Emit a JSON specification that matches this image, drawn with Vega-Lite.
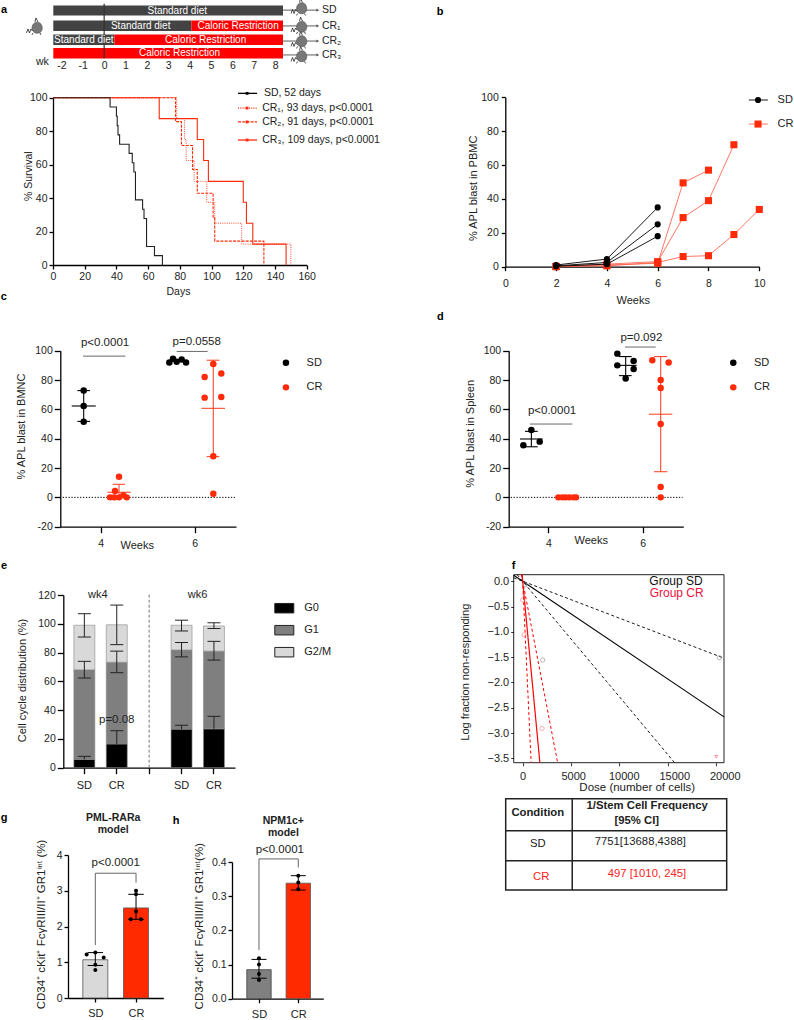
{
"$schema":"https://vega.github.io/schema/vega-lite/v6.json",
"width":794,"height":1020,"padding":0,"autosize":{"type":"none"},"background":"white",
"config":{"view":{"stroke":null},"font":"Liberation Sans",
"text":{"font":"Liberation Sans","fontSize":11,"baseline":"middle","align":"center","color":"#222"},
"axis":{"grid":false,"labelFont":"Liberation Sans","labelFontSize":10.5,"labelColor":"#222","titleFont":"Liberation Sans","titleFontSize":11,"titleFontWeight":"normal","titleColor":"#222","tickColor":"#000","domainColor":"#000","tickWidth":1.3,"domainWidth":1.3,"tickSize":4,"labelPadding":2,"labelFlush":false,"labelOverlap":false,"labelBound":false,"titleBaseline":"middle","titleAlign":"center"}},
"resolve":{"scale":{"x":"independent","y":"independent"},"axis":{"x":"independent","y":"independent"}},
"layer":[
{"encoding":{"x":{"field":"week","type":"quantitative","scale":{"domain":[-2.38,8.37],"range":[53.3,283],"nice":false,"zero":false},"axis":{"orient":"bottom","title":null,"values":[-2,-1,0,1,2,3,4,5,6,7,8],"labelExpr":"replace(datum.label,'−','-')","offset":-961,"domain":false,"ticks":false,"labelPadding":1,"format":"d"}},
"y":{"field":"row","type":"quantitative","scale":{"domain":[0,4],"range":[5,59],"nice":false,"zero":false},"axis":null}},
"layer":[
{"data":{"values":[{"week":-2.38,"weekEnd":8.37,"row":0.04,"rowEnd":0.78},{"week":-2.38,"weekEnd":4.08,"row":1.15,"rowEnd":1.93},{"week":-2.38,"weekEnd":0.48,"row":2.19,"rowEnd":2.96}]},"mark":{"type":"rect","fill":"#434343"},"encoding":{"x2":{"field":"weekEnd"},"y2":{"field":"rowEnd"}}},
{"data":{"values":[{"week":4.08,"weekEnd":8.37,"row":1.15,"rowEnd":1.93},{"week":0.48,"weekEnd":8.37,"row":2.19,"rowEnd":2.96},{"week":-2.38,"weekEnd":8.37,"row":3.19,"rowEnd":3.96}]},"mark":{"type":"rect","fill":"#ff0000"},"encoding":{"x2":{"field":"weekEnd"},"y2":{"field":"rowEnd"}}},
{"data":{"values":[{"week":0,"row":-0.1,"rowEnd":3.95}]},"mark":{"type":"rule","color":"#333","strokeWidth":1.2},"encoding":{"y2":{"field":"rowEnd"}}},
{"data":{"values":[{"week":3.42,"row":0.41,"label":"Standard diet"},{"week":1.71,"row":1.54,"label":"Standard diet"},{"week":6.27,"row":1.54,"label":"Caloric Restriction"},{"week":-0.95,"row":2.57,"label":"Standard diet"},{"week":4.75,"row":2.57,"label":"Caloric Restriction"},{"week":3.53,"row":3.57,"label":"Caloric Restriction"}]},"mark":{"type":"text","color":"white","fontSize":10},"encoding":{"text":{"field":"label"}}},
{"data":{"values":[{"week":8.37,"weekEnd":10,"row":0.38},{"week":8.37,"weekEnd":10,"row":1.55},{"week":8.37,"weekEnd":10,"row":2.67},{"week":8.37,"weekEnd":10,"row":3.7}]},"mark":{"type":"rule","color":"#333","strokeWidth":0.8},"encoding":{"x2":{"field":"weekEnd"}}},
{"data":{"values":[{"week":10,"row":0.38},{"week":10,"row":1.55},{"week":10,"row":2.67},{"week":10,"row":3.7}]},"mark":{"type":"point","shape":"triangle-right","filled":true,"color":"#333","size":10}},
{"data":{"values":[{"week":9.19,"row":0.26},{"week":9.19,"row":1.63},{"week":9.19,"row":2.7},{"week":9.19,"row":3.81},{"week":-3.19,"row":1.7}]},"layer":[
{"mark":{"type":"point","shape":"M-0.95,0.5L-0.8,0.1L-0.65,0.5L-0.5,0.1L-0.35,0.3M-0.1,-0.6L0,-1L0.2,-0.6M-0.3,0.5L-0.4,0.7M0.4,0.5L0.5,0.7","filled":false,"stroke":"#222","strokeWidth":0.8,"size":400,"opacity":1}},
{"mark":{"type":"point","shape":"M-0.4,0C-0.4,-0.5 0.1,-0.75 0.45,-0.45C0.75,-0.1 0.65,0.4 0.3,0.5C-0.05,0.6 -0.4,0.4 -0.4,0Z","filled":true,"fill":"#777","stroke":"#444","strokeWidth":0.5,"size":400,"opacity":1}}]},
{"data":{"values":[{"week":10.19,"row":0.38,"label":"SD"},{"week":10.19,"row":1.55,"label":"CR₁"},{"week":10.19,"row":2.67,"label":"CR₂"},{"week":10.19,"row":3.7,"label":"CR₃"},{"week":-3.19,"row":4.22,"label":"wk"}]},"mark":{"type":"text","align":"left","fontSize":10.5},"encoding":{"text":{"field":"label"}}},
{"data":{"values":[{"week":-4.69,"row":0.37,"label":"a"}]},"mark":{"type":"text","fontWeight":"bold","fontSize":11,"color":"#000"},"encoding":{"text":{"field":"label"}}}
]},
{"encoding":{"x":{"field":"day","type":"quantitative","scale":{"domain":[0,160],"range":[53,306.7],"nice":false,"zero":false},"axis":{"orient":"bottom","values":[0,20,40,60,80,100,120,140,160],"offset":-755,"title":"Days","titleFontSize":10.5,"titleX":178,"titleY":26.7,"labelPadding":2.5}},
"y":{"field":"survival","type":"quantitative","scale":{"domain":[0,100],"range":[265,97.7],"nice":false,"zero":false},"axis":{"orient":"left","values":[0,20,40,60,80,100],"offset":-53,"title":"% Survival","titleFontSize":10.5,"titleX":-24.7,"titleY":175.7}}},
"layer":[
{"data":{"values":[{"day":0,"survival":100},{"day":78,"survival":87.5},{"day":83,"survival":75},{"day":84,"survival":62.5},{"day":89,"survival":50},{"day":97,"survival":37.5},{"day":102,"survival":25},{"day":119,"survival":12.5},{"day":150,"survival":0}]},"mark":{"type":"line","interpolate":"step-after","color":"#ff4a30","strokeWidth":1,"strokeDash":[1,1.2]}},
{"data":{"values":[{"day":0,"survival":100},{"day":77.3,"survival":85.7},{"day":81,"survival":71.4},{"day":88,"survival":57.1},{"day":91,"survival":42.9},{"day":101,"survival":28.6},{"day":102,"survival":14.3},{"day":133,"survival":0}]},"mark":{"type":"line","interpolate":"step-after","color":"#ff2a0a","strokeWidth":1.1,"strokeDash":[3,1.2]}},
{"data":{"values":[{"day":0,"survival":100},{"day":67,"survival":87.5},{"day":91,"survival":75},{"day":95,"survival":62.5},{"day":98,"survival":50},{"day":120,"survival":37.5},{"day":122,"survival":25},{"day":126,"survival":12.5},{"day":147,"survival":0}]},"mark":{"type":"line","interpolate":"step-after","color":"#ff2a0a","strokeWidth":1.1}},
{"data":{"values":[{"day":0,"survival":100},{"day":36,"survival":94.4},{"day":40,"survival":88.9},{"day":40.5,"survival":83.3},{"day":41,"survival":77.8},{"day":42,"survival":72.2},{"day":48,"survival":66.7},{"day":50,"survival":61.1},{"day":51,"survival":55.6},{"day":52,"survival":38.9},{"day":56.5,"survival":33.3},{"day":57.4,"survival":27.8},{"day":59,"survival":11.1},{"day":64,"survival":5.6},{"day":69,"survival":0}]},"mark":{"type":"line","interpolate":"step-after","color":"#222","strokeWidth":1.1}},
{"data":{"values":[{"day":116.7,"survival":102.6},{"day":128.7,"survival":102.6}]},"mark":{"type":"line","color":"#000","strokeWidth":1.3}},
{"data":{"values":[{"day":116.7,"survival":93.8},{"day":128.7,"survival":93.8}]},"mark":{"type":"line","color":"#ff2a0a","strokeWidth":1.2,"strokeDash":[1,1.2]}},
{"data":{"values":[{"day":116.7,"survival":85.5},{"day":128.7,"survival":85.5}]},"mark":{"type":"line","color":"#ff2a0a","strokeWidth":1.2,"strokeDash":[3,1.2]}},
{"data":{"values":[{"day":116.7,"survival":74.7},{"day":128.7,"survival":74.7}]},"mark":{"type":"line","color":"#ff2a0a","strokeWidth":1.3}},
{"data":{"values":[{"day":122.4,"survival":102.6}]},"mark":{"type":"point","shape":"square","filled":true,"color":"#000","size":8,"opacity":1}},
{"data":{"values":[{"day":122.4,"survival":93.8},{"day":122.4,"survival":85.5},{"day":122.4,"survival":74.7}]},"mark":{"type":"point","shape":"square","filled":true,"color":"#ff2a0a","size":8,"opacity":1}},
{"data":{"values":[{"day":133,"survival":102.6,"label":"SD, 52 days"},{"day":131.9,"survival":93.8,"label":"CR₁, 93 days, p<0.0001"},{"day":131.9,"survival":85.5,"label":"CR₂, 91 days, p<0.0001"},{"day":131.9,"survival":74.7,"label":"CR₃, 109 days, p<0.0001"}]},"mark":{"type":"text","align":"left","fontSize":10.5},"encoding":{"text":{"field":"label"}}}
]},
{"encoding":{"x":{"field":"week","type":"quantitative","scale":{"domain":[0,10],"range":[505.3,759.3],"nice":false,"zero":false},"axis":{"orient":"bottom","values":[0,2,4,6,8,10],"offset":-753.3,"title":"Weeks","titleX":632.7,"titleY":33.3,"labelPadding":8}},
"y":{"field":"blast","type":"quantitative","scale":{"domain":[0,100],"range":[266.7,97.3],"nice":false,"zero":false},"axis":{"orient":"left","values":[0,20,40,60,80,100],"offset":-505.3,"title":"% APL blast in PBMC","titleX":-32,"titleY":187.8,"labelPadding":3}}},
"layer":[
{"data":{"values":[{"mouse":"c1","week":2,"blast":0.2},{"mouse":"c1","week":4,"blast":1},{"mouse":"c1","week":6,"blast":2},{"mouse":"c1","week":7,"blast":49.5},{"mouse":"c1","week":8,"blast":57},{"mouse":"c2","week":2,"blast":0.1},{"mouse":"c2","week":4,"blast":1.5},{"mouse":"c2","week":6,"blast":3},{"mouse":"c2","week":7,"blast":29},{"mouse":"c2","week":8,"blast":39},{"mouse":"c2","week":9,"blast":72},{"mouse":"c3","week":2,"blast":0},{"mouse":"c3","week":4,"blast":0.5},{"mouse":"c3","week":6,"blast":2.5},{"mouse":"c3","week":7,"blast":6},{"mouse":"c3","week":8,"blast":6.5},{"mouse":"c3","week":9,"blast":19},{"mouse":"c3","week":10,"blast":33.8},{"mouse":"keyCR","week":9.59,"blast":84.2},{"mouse":"keyCR","week":10.34,"blast":84.2}]},"mark":{"type":"line","color":"#ff5f48","strokeWidth":0.85},"encoding":{"detail":{"field":"mouse"}}},
{"data":{"values":[{"week":2,"blast":0.2},{"week":4,"blast":1},{"week":6,"blast":2},{"week":7,"blast":49.5},{"week":8,"blast":57},{"week":2,"blast":0.1},{"week":4,"blast":1.5},{"week":6,"blast":3},{"week":7,"blast":29},{"week":8,"blast":39},{"week":9,"blast":72},{"week":2,"blast":0},{"week":4,"blast":0.5},{"week":6,"blast":2.5},{"week":7,"blast":6},{"week":8,"blast":6.5},{"week":9,"blast":19},{"week":10,"blast":33.8},{"week":9.95,"blast":84.2}]},"mark":{"type":"point","shape":"square","filled":true,"color":"#ff2a0a","size":50,"opacity":1}},
{"data":{"values":[{"mouse":"s1","week":2,"blast":1},{"mouse":"s1","week":4,"blast":4.5},{"mouse":"s1","week":6,"blast":35},{"mouse":"s2","week":2,"blast":0.5},{"mouse":"s2","week":4,"blast":2.5},{"mouse":"s2","week":6,"blast":25},{"mouse":"s3","week":2,"blast":0.3},{"mouse":"s3","week":4,"blast":1.5},{"mouse":"s3","week":6,"blast":18},{"mouse":"keySD","week":9.59,"blast":98.4},{"mouse":"keySD","week":10.34,"blast":98.4}]},"mark":{"type":"line","color":"#000","strokeWidth":0.9},"encoding":{"detail":{"field":"mouse"}}},
{"data":{"values":[{"week":2,"blast":1},{"week":4,"blast":4.5},{"week":6,"blast":35},{"week":2,"blast":0.5},{"week":4,"blast":2.5},{"week":6,"blast":25},{"week":2,"blast":0.3},{"week":4,"blast":1.5},{"week":6,"blast":18},{"week":9.95,"blast":98.4}]},"mark":{"type":"point","shape":"circle","filled":true,"color":"#000","size":38,"opacity":1}},
{"data":{"values":[{"week":10.72,"blast":98.4,"label":"SD"},{"week":10.72,"blast":84.2,"label":"CR"}]},"mark":{"type":"text","align":"left"},"encoding":{"text":{"field":"label"}}},
{"data":{"values":[{"week":-2.57,"blast":150.4,"label":"b"}]},"mark":{"type":"text","fontWeight":"bold","fontSize":11,"color":"#000"},"encoding":{"text":{"field":"label"}}}
]},
{"encoding":{"x":{"field":"week","type":"quantitative","scale":{"domain":[3.14,6.88],"range":[60.3,236],"nice":false,"zero":false},"axis":{"orient":"bottom","values":[4,6],"offset":-493.3,"title":"Weeks","titleX":136.7,"titleY":18.3,"tickSize":6,"labelPadding":6}},
"y":{"field":"blast","type":"quantitative","scale":{"domain":[-20,100],"range":[526.7,350.7],"nice":false,"zero":false},"axis":{"orient":"left","values":[-20,0,20,40,60,80,100],"labelExpr":"replace(datum.label,'−','-')","offset":-60.3,"title":"% APL blast in BMNC","titleX":-39.3,"titleY":426,"tickSize":6}}},
"layer":[
{"data":{"values":[{"week":3.191,"weekEnd":6.858,"blast":0}]},"mark":{"type":"rule","color":"#000","strokeDash":[1.3,1.6],"strokeWidth":1},"encoding":{"x2":{"field":"weekEnd"}}},
{"data":{"values":[{"week":3.624,"weekEnd":4.525,"blast":96.3},{"week":5.617,"weekEnd":6.277,"blast":99.5}]},"mark":{"type":"rule","color":"#444","strokeWidth":0.8},"encoding":{"x2":{"field":"weekEnd"}}},
{"data":{"values":[{"week":3.638,"weekEnd":3.638,"blast":51.8,"blastEnd":72.8},{"week":3.504,"weekEnd":3.773,"blast":72.8,"blastEnd":72.8},{"week":3.504,"weekEnd":3.773,"blast":51.8,"blastEnd":51.8},{"week":3.383,"weekEnd":3.894,"blast":62.3,"blastEnd":62.3}]},"mark":{"type":"rule","color":"#000","strokeWidth":1.1},"encoding":{"x2":{"field":"weekEnd"},"y2":{"field":"blastEnd"}}},
{"data":{"values":[{"week":4.39,"weekEnd":4.39,"blast":0,"blastEnd":8.9},{"week":4.255,"weekEnd":4.518,"blast":8.9,"blastEnd":8.9},{"week":4.142,"weekEnd":4.638,"blast":3.5,"blastEnd":3.5},{"week":6.397,"weekEnd":6.397,"blast":27.8,"blastEnd":93.5},{"week":6.255,"weekEnd":6.525,"blast":93.5,"blastEnd":93.5},{"week":6.255,"weekEnd":6.525,"blast":27.8,"blastEnd":27.8},{"week":6.142,"weekEnd":6.645,"blast":60.7,"blastEnd":60.7}]},"mark":{"type":"rule","color":"#ff4a30","strokeWidth":1.1},"encoding":{"x2":{"field":"weekEnd"},"y2":{"field":"blastEnd"}}},
{"data":{"values":[{"week":3.638,"blast":72.8},{"week":3.638,"blast":62.3},{"week":3.638,"blast":51.6},{"week":5.461,"blast":92},{"week":5.539,"blast":94.5},{"week":5.617,"blast":92.5},{"week":5.723,"blast":94},{"week":5.816,"blast":92},{"week":7.943,"blast":91.8}]},"mark":{"type":"point","shape":"circle","filled":true,"color":"#000","size":42,"opacity":1}},
{"data":{"values":[{"week":4.39,"blast":14},{"week":4.305,"blast":4.3},{"week":4.199,"blast":0},{"week":4.29,"blast":0},{"week":4.39,"blast":0},{"week":4.482,"blast":1.5},{"week":4.553,"blast":0},{"week":6.397,"blast":91},{"week":6.213,"blast":82},{"week":6.567,"blast":84.5},{"week":6.213,"blast":68},{"week":6.567,"blast":68.5},{"week":6.397,"blast":28},{"week":6.397,"blast":2.5},{"week":7.943,"blast":75}]},"mark":{"type":"point","shape":"circle","filled":true,"color":"#ff2a0a","size":42,"opacity":1}},
{"data":{"values":[{"week":4.092,"blast":105.4,"label":"p<0.0001"},{"week":6.043,"blast":105.7,"label":"p=0.0558"}]},"mark":{"type":"text","fontSize":11.5},"encoding":{"text":{"field":"label"}}},
{"data":{"values":[{"week":8.383,"blast":91.8,"label":"SD"},{"week":8.383,"blast":75,"label":"CR"}]},"mark":{"type":"text","align":"left"},"encoding":{"text":{"field":"label"}}},
{"data":{"values":[{"week":1.94,"blast":136.5,"label":"c"}]},"mark":{"type":"text","fontWeight":"bold","fontSize":11,"color":"#000"},"encoding":{"text":{"field":"label"}}}
]},
{"encoding":{"x":{"field":"week","type":"quantitative","scale":{"domain":[3.159,6.862],"range":[508.7,683.3],"nice":false,"zero":false},"axis":{"orient":"bottom","values":[4,6],"offset":-493.3,"title":"Weeks","titleX":590.7,"titleY":14,"tickSize":6,"labelPadding":6}},
"y":{"field":"blast","type":"quantitative","scale":{"domain":[-20,100],"range":[526.7,350.7],"nice":false,"zero":false},"axis":{"orient":"left","values":[-20,0,20,40,60,80,100],"labelExpr":"replace(datum.label,'−','-')","offset":-508.7,"title":"% APL blast in Spleen","titleX":-38.7,"titleY":433.3,"tickSize":6}}},
"layer":[
{"data":{"values":[{"week":3.201,"weekEnd":6.848,"blast":0}]},"mark":{"type":"rule","color":"#000","strokeDash":[1.3,1.6],"strokeWidth":1},"encoding":{"x2":{"field":"weekEnd"}}},
{"data":{"values":[{"week":3.611,"weekEnd":4.509,"blast":50},{"week":5.625,"weekEnd":6.276,"blast":102.5}]},"mark":{"type":"rule","color":"#444","strokeWidth":0.8},"encoding":{"x2":{"field":"weekEnd"}}},
{"data":{"values":[{"week":3.64,"weekEnd":3.64,"blast":34.5,"blastEnd":45},{"week":3.505,"weekEnd":3.774,"blast":45,"blastEnd":45},{"week":3.505,"weekEnd":3.774,"blast":34.5,"blastEnd":34.5},{"week":3.399,"weekEnd":3.88,"blast":39.8,"blastEnd":39.8},{"week":5.64,"weekEnd":5.64,"blast":83,"blastEnd":96},{"week":5.498,"weekEnd":5.767,"blast":96,"blastEnd":96},{"week":5.498,"weekEnd":5.767,"blast":83,"blastEnd":83},{"week":5.392,"weekEnd":5.873,"blast":90,"blastEnd":90}]},"mark":{"type":"rule","color":"#000","strokeWidth":1.1},"encoding":{"x2":{"field":"weekEnd"},"y2":{"field":"blastEnd"}}},
{"data":{"values":[{"week":6.382,"weekEnd":6.382,"blast":17.5,"blastEnd":96},{"week":6.24,"weekEnd":6.523,"blast":96,"blastEnd":96},{"week":6.24,"weekEnd":6.523,"blast":17.5,"blastEnd":17.5},{"week":6.134,"weekEnd":6.629,"blast":56.7,"blastEnd":56.7}]},"mark":{"type":"rule","color":"#ff4a30","strokeWidth":1.1},"encoding":{"x2":{"field":"weekEnd"},"y2":{"field":"blastEnd"}}},
{"data":{"values":[{"week":3.64,"blast":46},{"week":3.47,"blast":35.5},{"week":3.816,"blast":38},{"week":5.463,"blast":98},{"week":5.809,"blast":93},{"week":5.463,"blast":90},{"week":5.809,"blast":87.5},{"week":5.64,"blast":81},{"week":7.922,"blast":91.8}]},"mark":{"type":"point","shape":"circle","filled":true,"color":"#000","size":42,"opacity":1}},
{"data":{"values":[{"week":4.212,"blast":0},{"week":4.297,"blast":0},{"week":4.367,"blast":0},{"week":4.445,"blast":0},{"week":4.53,"blast":0},{"week":4.587,"blast":0},{"week":6.205,"blast":93.5},{"week":6.551,"blast":92},{"week":6.382,"blast":80},{"week":6.382,"blast":74.5},{"week":6.382,"blast":50},{"week":6.382,"blast":7},{"week":6.382,"blast":0},{"week":7.922,"blast":75}]},"mark":{"type":"point","shape":"circle","filled":true,"color":"#ff2a0a","size":42,"opacity":1}},
{"data":{"values":[{"week":4.078,"blast":59,"label":"p<0.0001"},{"week":5.972,"blast":108.9,"label":"p=0.092"}]},"mark":{"type":"text","fontSize":11.5},"encoding":{"text":{"field":"label"}}},
{"data":{"values":[{"week":8.36,"blast":91.8,"label":"SD"},{"week":8.36,"blast":75,"label":"CR"}]},"mark":{"type":"text","align":"left"},"encoding":{"text":{"field":"label"}}},
{"data":{"values":[{"week":1.71,"blast":123.1,"label":"d"}]},"mark":{"type":"text","fontWeight":"bold","fontSize":11,"color":"#000"},"encoding":{"text":{"field":"label"}}}
]},
{"encoding":{"x":{"field":"condition","type":"nominal","sort":null,"scale":{"type":"band","domain":["SD wk4","CR wk4","gap","SD wk6","CR wk6"],"range":[63.3,235],"paddingInner":0.352,"paddingOuter":0.326},"axis":{"orient":"bottom","offset":-252.3,"title":null,"labelExpr":"datum.label=='gap'?'':split(datum.label,' ')[0]","labelAngle":0,"tickSize":6,"labelPadding":6,"labelFontSize":11}},
"y":{"field":"percent","type":"quantitative","scale":{"domain":[0,120],"range":[767.7,595],"nice":false,"zero":false},"axis":{"orient":"left","values":[0,20,40,60,80,100,120],"offset":-63.3,"title":"Cell cycle distribution (%)","titleX":-40.6,"titleY":680,"tickSize":6}}},
"layer":[
{"data":{"values":[{"condition":"SD wk4","phase":"G0","percent":0,"percentEnd":5.8},{"condition":"SD wk4","phase":"G1","percent":5.8,"percentEnd":68},{"condition":"SD wk4","phase":"G2/M","percent":68,"percentEnd":99},{"condition":"CR wk4","phase":"G0","percent":0,"percentEnd":16.5},{"condition":"CR wk4","phase":"G1","percent":16.5,"percentEnd":73.3},{"condition":"CR wk4","phase":"G2/M","percent":73.3,"percentEnd":99.3},{"condition":"SD wk6","phase":"G0","percent":0,"percentEnd":26.8},{"condition":"SD wk6","phase":"G1","percent":26.8,"percentEnd":81.8},{"condition":"SD wk6","phase":"G2/M","percent":81.8,"percentEnd":99},{"condition":"CR wk6","phase":"G0","percent":0,"percentEnd":27},{"condition":"CR wk6","phase":"G1","percent":27,"percentEnd":81},{"condition":"CR wk6","phase":"G2/M","percent":81,"percentEnd":98.5}]},"mark":{"type":"bar","stroke":"#8a8a8a","strokeWidth":0.6},"encoding":{"y2":{"field":"percentEnd"},"color":{"field":"phase","type":"nominal","scale":{"domain":["G0","G1","G2/M"],"range":["#000000","#7f7f7f","#d9d9d9"]},"legend":{"title":null,"orient":"none","legendX":274.3,"legendY":598.2,"symbolType":"M-1,-0.5H1V0.5H-1Z","symbolSize":361,"symbolStrokeColor":"#222","symbolStrokeWidth":1,"symbolOpacity":1,"labelFont":"Liberation Sans","labelFontSize":11,"labelColor":"#222","labelOffset":10,"rowPadding":5,"padding":0}}}},
{"data":{"values":[{"condition":"gap","percent":0,"percentEnd":121.6}]},"mark":{"type":"rule","color":"#777","strokeDash":[3,2],"strokeWidth":1},"encoding":{"y2":{"field":"percentEnd"}}},
{"data":{"values":[{"condition":"SD wk4","percent":5.8,"percentEnd":7.9},{"condition":"SD wk4","percent":62.3,"percentEnd":73.9},{"condition":"SD wk4","percent":90.8,"percentEnd":107},{"condition":"CR wk4","percent":16.5,"percentEnd":25.7},{"condition":"CR wk4","percent":66,"percentEnd":81},{"condition":"CR wk4","percent":85.5,"percentEnd":113},{"condition":"SD wk6","percent":26.8,"percentEnd":29.5},{"condition":"SD wk6","percent":77,"percentEnd":87},{"condition":"SD wk6","percent":95,"percentEnd":102.5},{"condition":"CR wk6","percent":27,"percentEnd":35.7},{"condition":"CR wk6","percent":74.8,"percentEnd":87.8},{"condition":"CR wk6","percent":96.7,"percentEnd":100.7}]},"mark":{"type":"rule","color":"#222","strokeWidth":1},"encoding":{"y2":{"field":"percentEnd"}}},
{"data":{"values":[{"condition":"SD wk4","percent":7.9},{"condition":"SD wk4","percent":62.3},{"condition":"SD wk4","percent":73.9},{"condition":"SD wk4","percent":90.8},{"condition":"SD wk4","percent":107},{"condition":"CR wk4","percent":25.7},{"condition":"CR wk4","percent":66},{"condition":"CR wk4","percent":81},{"condition":"CR wk4","percent":85.5},{"condition":"CR wk4","percent":113},{"condition":"SD wk6","percent":29.5},{"condition":"SD wk6","percent":77},{"condition":"SD wk6","percent":87},{"condition":"SD wk6","percent":95},{"condition":"SD wk6","percent":102.5},{"condition":"CR wk6","percent":35.7},{"condition":"CR wk6","percent":74.8},{"condition":"CR wk6","percent":87.8},{"condition":"CR wk6","percent":96.7},{"condition":"CR wk6","percent":100.7}]},"mark":{"type":"tick","orient":"horizontal","size":13,"thickness":1,"color":"#222","opacity":1}},
{"data":{"values":[{"condition":"CR wk4","percent":33,"label":"p=0.08"}]},"mark":{"type":"text","fontSize":11.5},"encoding":{"text":{"field":"label"}}},
{"data":{"values":[{"condition":"SD wk4","percent":120.3,"label":"wk4"}]},"mark":{"type":"text","dx":13.4},"encoding":{"text":{"field":"label"}}},
{"data":{"values":[{"condition":"SD wk6","percent":120.3,"label":"wk6"}]},"mark":{"type":"text","dx":16},"encoding":{"text":{"field":"label"}}},
{"data":{"values":[{"condition":"SD wk4","percent":140.2,"label":"e"}]},"mark":{"type":"text","fontWeight":"bold","fontSize":11,"color":"#000","dx":-80.3},"encoding":{"text":{"field":"label"}}}
]},
{"encoding":{"x":{"field":"dose","type":"quantitative","scale":{"domain":[-930,20850],"range":[513.7,724],"nice":false,"zero":false},"axis":{"orient":"bottom","values":[0,5000,10000,15000,20000],"format":"d","offset":-257.3,"title":"Dose (number of cells)","titleFontSize":11.5,"titleX":636.7,"titleY":24.6,"tickSize":3,"labelPadding":5,"tickWidth":0.8,"domain":false,"labelFontSize":11,"labelOffset":{"expr":"datum.value/20000*9"}}},
"y":{"field":"logFraction","type":"quantitative","scale":{"domain":[-3.586,0.13],"range":[762.7,574.7],"nice":false,"zero":false},"axis":{"orient":"left","values":[0,-0.5,-1,-1.5,-2,-2.5,-3,-3.5],"format":".1f","offset":-513.7,"title":"Log fraction non-responding","titleX":-48.7,"titleY":671.7,"tickSize":3,"tickWidth":0.8,"domain":false,"labelFontSize":11}}},
"layer":[
{"data":{"values":[{"dose":-930,"doseEnd":20850,"logFraction":-3.586,"logEnd":0.13}]},"mark":{"type":"rect","fill":"transparent","stroke":"#222","strokeWidth":1},"encoding":{"x2":{"field":"doseEnd"},"y2":{"field":"logEnd"}}},
{"data":{"values":[{"dose":-930,"logFraction":0.12},{"dose":20850,"logFraction":-2.68}]},"mark":{"type":"line","color":"#000","strokeWidth":1.1}},
{"data":{"values":[{"fit":"upper","dose":-930,"logFraction":0.07},{"fit":"upper","dose":20850,"logFraction":-1.52},{"fit":"lower","dose":-570,"logFraction":0.13},{"fit":"lower","dose":15736,"logFraction":-3.586}]},"mark":{"type":"line","color":"#000","strokeWidth":0.9,"strokeDash":[3,2.5]},"encoding":{"detail":{"field":"fit"}}},
{"data":{"values":[{"dose":-65,"logFraction":0.13},{"dose":1782,"logFraction":-3.586}]},"mark":{"type":"line","color":"#ff0000","strokeWidth":1.2}},
{"data":{"values":[{"fit":"upper","dose":-131,"logFraction":0.13},{"fit":"upper","dose":3622,"logFraction":-3.586},{"fit":"lower","dose":-32,"logFraction":0.13},{"fit":"lower","dose":878,"logFraction":-3.586}]},"mark":{"type":"line","color":"#ff0000","strokeWidth":1,"strokeDash":[3,2.5]},"encoding":{"detail":{"field":"fit"}}},
{"data":{"values":[{"dose":20366,"logFraction":-1.51},{"dose":2071,"logFraction":-1.556},{"dose":240,"logFraction":-0.07}]},"mark":{"type":"point","shape":"circle","filled":false,"color":"#888","size":18,"strokeWidth":0.6,"opacity":1}},
{"data":{"values":[{"dose":2002,"logFraction":-2.91},{"dose":138,"logFraction":-1.06},{"dose":0,"logFraction":-0.37}]},"mark":{"type":"point","shape":"circle","filled":false,"color":"#f08080","size":18,"strokeWidth":0.6,"opacity":1}},
{"data":{"values":[{"dose":20055,"logFraction":-3.47}]},"mark":{"type":"point","shape":"triangle-down","filled":false,"color":"#f05070","size":10,"strokeWidth":0.6,"opacity":1}},
{"data":{"values":[{"dose":15878,"logFraction":0,"label":"Group SD"}]},"mark":{"type":"text","color":"#111","fontSize":12},"encoding":{"text":{"field":"label"}}},
{"data":{"values":[{"dose":15947,"logFraction":-0.24,"label":"Group CR"}]},"mark":{"type":"text","color":"#f0103c","fontSize":12},"encoding":{"text":{"field":"label"}}},
{"data":{"values":[{"dose":-951,"logFraction":0.303,"label":"f"}]},"mark":{"type":"text","fontWeight":"bold","fontSize":11,"color":"#000"},"encoding":{"text":{"field":"label"}}}
]},
{"encoding":{"x":{"field":"col","type":"quantitative","scale":{"domain":[0,1],"range":[505.7,726.7],"nice":false,"zero":false},"axis":null},
"y":{"field":"line","type":"quantitative","scale":{"domain":[0,1],"range":[798.7,890],"nice":false,"zero":false},"axis":null}},
"layer":[
{"data":{"values":[{"col":0,"colEnd":1,"line":0,"lineEnd":1}]},"mark":{"type":"rect","fill":"white","stroke":"#222","strokeWidth":1.5},"encoding":{"x2":{"field":"colEnd"},"y2":{"field":"lineEnd"}}},
{"data":{"values":[{"col":0,"colEnd":1,"line":0.35,"lineEnd":0.35},{"col":0,"colEnd":1,"line":0.679,"lineEnd":0.679},{"col":0.301,"colEnd":0.301,"line":0,"lineEnd":1}]},"mark":{"type":"rule","color":"#222","strokeWidth":1.5},"encoding":{"x2":{"field":"colEnd"},"y2":{"field":"lineEnd"}}},
{"data":{"values":[{"col":0.145,"line":0.16,"label":"Condition"},{"col":0.64,"line":0.077,"label":"1/Stem Cell Frequency"},{"col":0.593,"line":0.244,"label":"[95% CI]"}]},"mark":{"type":"text","fontWeight":"bold","fontSize":11.3},"encoding":{"text":{"field":"label"}}},
{"data":{"values":[{"col":0.145,"line":0.499,"label":"SD"},{"col":0.609,"line":0.471,"label":"7751[13688,4388]"}]},"mark":{"type":"text","fontSize":11.3},"encoding":{"text":{"field":"label"}}},
{"data":{"values":[{"col":0.161,"line":0.854,"label":"CR"},{"col":0.639,"line":0.824,"label":"497 [1010, 245]"}]},"mark":{"type":"text","color":"#ff2020","fontSize":11.3},"encoding":{"text":{"field":"label"}}}
]},
{"encoding":{"x":{"field":"position","type":"quantitative","scale":{"domain":[0.329,2.67],"range":[68,163.3],"nice":false,"zero":false},"axis":{"orient":"bottom","values":[1,2],"labelExpr":"datum.value==1?'SD':'CR'","offset":-22,"title":null,"tickSize":4,"labelPadding":5.5,"labelFontSize":11}},
"y":{"field":"frequency","type":"quantitative","scale":{"domain":[0,4],"range":[998,855],"nice":false,"zero":false},"axis":{"orient":"left","values":[0,1,2,3,4],"offset":-68,"title":"CD34⁺ cKit⁺ FcγRIII/II⁺ GR1ⁱⁿᵗ (%)","titleFontSize":11.5,"titleX":-26.3,"titleY":924}}},
"layer":[
{"data":{"values":[{"position":0.693,"positionEnd":1.307,"frequency":1.07,"base":0}]},"mark":{"type":"rect","fill":"#d9d9d9","stroke":"#555","strokeWidth":0.8},"encoding":{"x2":{"field":"positionEnd"},"y2":{"field":"base"}}},
{"data":{"values":[{"position":1.693,"positionEnd":2.307,"frequency":2.52,"base":0}]},"mark":{"type":"rect","fill":"#ff2a00","stroke":"#555","strokeWidth":0.8},"encoding":{"x2":{"field":"positionEnd"},"y2":{"field":"base"}}},
{"data":{"values":[{"position":1,"positionEnd":1,"frequency":0.91,"frequencyEnd":1.27},{"position":0.81,"positionEnd":1.19,"frequency":1.27,"frequencyEnd":1.27},{"position":0.81,"positionEnd":1.19,"frequency":0.91,"frequencyEnd":0.91},{"position":2,"positionEnd":2,"frequency":2.2,"frequencyEnd":2.9},{"position":1.81,"positionEnd":2.19,"frequency":2.9,"frequencyEnd":2.9},{"position":1.81,"positionEnd":2.19,"frequency":2.2,"frequencyEnd":2.2}]},"mark":{"type":"rule","color":"#000","strokeWidth":1},"encoding":{"x2":{"field":"positionEnd"},"y2":{"field":"frequencyEnd"}}},
{"data":{"values":[{"position":0.787,"frequency":1.22},{"position":1,"frequency":1.27},{"position":1.205,"frequency":1.13},{"position":1,"frequency":0.93},{"position":1,"frequency":0.78},{"position":2,"frequency":3},{"position":2,"frequency":2.9},{"position":2,"frequency":2.42},{"position":1.87,"frequency":2.2},{"position":2.12,"frequency":2.2}]},"mark":{"type":"point","shape":"circle","filled":true,"color":"#000","size":16,"opacity":1}},
{"data":{"values":[{"leg":"a","position":1,"frequency":1.48},{"leg":"b","position":1,"frequency":3.49},{"leg":"c","position":2,"frequency":3.49},{"leg":"d","position":2,"frequency":3.23}]},"mark":{"type":"line","color":"#666","strokeWidth":1}},
{"data":{"values":[{"position":1.5,"frequency":3.79,"label":"p<0.0001"}]},"mark":{"type":"text","fontSize":11.5},"encoding":{"text":{"field":"label"}}},
{"data":{"values":[{"position":1.44,"frequency":5.03,"label":"PML-RARa"},{"position":1.44,"frequency":4.7,"label":"model"}]},"mark":{"type":"text","fontWeight":"bold","fontSize":10.5},"encoding":{"text":{"field":"label"}}},
{"data":{"values":[{"position":-1.243,"frequency":5.03,"label":"g"}]},"mark":{"type":"text","fontWeight":"bold","fontSize":11,"color":"#000"},"encoding":{"text":{"field":"label"}}}
]},
{"encoding":{"x":{"field":"position","type":"quantitative","scale":{"domain":[0.314,2.636],"range":[232,323.3],"nice":false,"zero":false},"axis":{"orient":"bottom","values":[1,2],"labelExpr":"datum.value==1?'SD':'CR'","offset":-21.3,"title":null,"tickSize":4,"labelPadding":5.5,"labelFontSize":11}},
"y":{"field":"frequency","type":"quantitative","scale":{"domain":[0,0.4],"range":[998.7,862],"nice":false,"zero":false},"axis":{"orient":"left","values":[0,0.1,0.2,0.3,0.4],"format":".1f","offset":-232,"title":"CD34⁺ cKit⁺ FcγRIII/II⁺ GR1ⁱⁿᵗ(%)","titleFontSize":11.5,"titleX":-33,"titleY":925.7}}},
"layer":[
{"data":{"values":[{"position":0.69,"positionEnd":1.31,"frequency":0.085,"base":0}]},"mark":{"type":"rect","fill":"#808080","stroke":"#444","strokeWidth":0.8},"encoding":{"x2":{"field":"positionEnd"},"y2":{"field":"base"}}},
{"data":{"values":[{"position":1.69,"positionEnd":2.31,"frequency":0.338,"base":0}]},"mark":{"type":"rect","fill":"#ff2a00","stroke":"#555","strokeWidth":0.8},"encoding":{"x2":{"field":"positionEnd"},"y2":{"field":"base"}}},
{"data":{"values":[{"position":1,"positionEnd":1,"frequency":0.06,"frequencyEnd":0.115},{"position":0.81,"positionEnd":1.19,"frequency":0.115,"frequencyEnd":0.115},{"position":0.81,"positionEnd":1.19,"frequency":0.06,"frequencyEnd":0.06},{"position":2,"positionEnd":2,"frequency":0.318,"frequencyEnd":0.36},{"position":1.81,"positionEnd":2.19,"frequency":0.36,"frequencyEnd":0.36},{"position":1.81,"positionEnd":2.19,"frequency":0.318,"frequencyEnd":0.318}]},"mark":{"type":"rule","color":"#000","strokeWidth":1},"encoding":{"x2":{"field":"positionEnd"},"y2":{"field":"frequencyEnd"}}},
{"data":{"values":[{"position":1,"frequency":0.118},{"position":1,"frequency":0.1},{"position":1,"frequency":0.072},{"position":1,"frequency":0.055},{"position":2,"frequency":0.36},{"position":2,"frequency":0.34},{"position":2,"frequency":0.32}]},"mark":{"type":"point","shape":"circle","filled":true,"color":"#000","size":16,"opacity":1}},
{"data":{"values":[{"leg":"a","position":1,"frequency":0.142},{"leg":"b","position":1,"frequency":0.409},{"leg":"c","position":2,"frequency":0.409},{"leg":"d","position":2,"frequency":0.384}]},"mark":{"type":"line","color":"#666","strokeWidth":1}},
{"data":{"values":[{"position":1.53,"frequency":0.435,"label":"p<0.0001"}]},"mark":{"type":"text","fontSize":11.5},"encoding":{"text":{"field":"label"}}},
{"data":{"values":[{"position":1.62,"frequency":0.521,"label":"NPM1c+"},{"position":1.62,"frequency":0.486,"label":"model"}]},"mark":{"type":"text","fontWeight":"bold","fontSize":10.5},"encoding":{"text":{"field":"label"}}},
{"data":{"values":[{"position":-1.11,"frequency":0.521,"label":"h"}]},"mark":{"type":"text","fontWeight":"bold","fontSize":11,"color":"#000"},"encoding":{"text":{"field":"label"}}}
]}
]}
